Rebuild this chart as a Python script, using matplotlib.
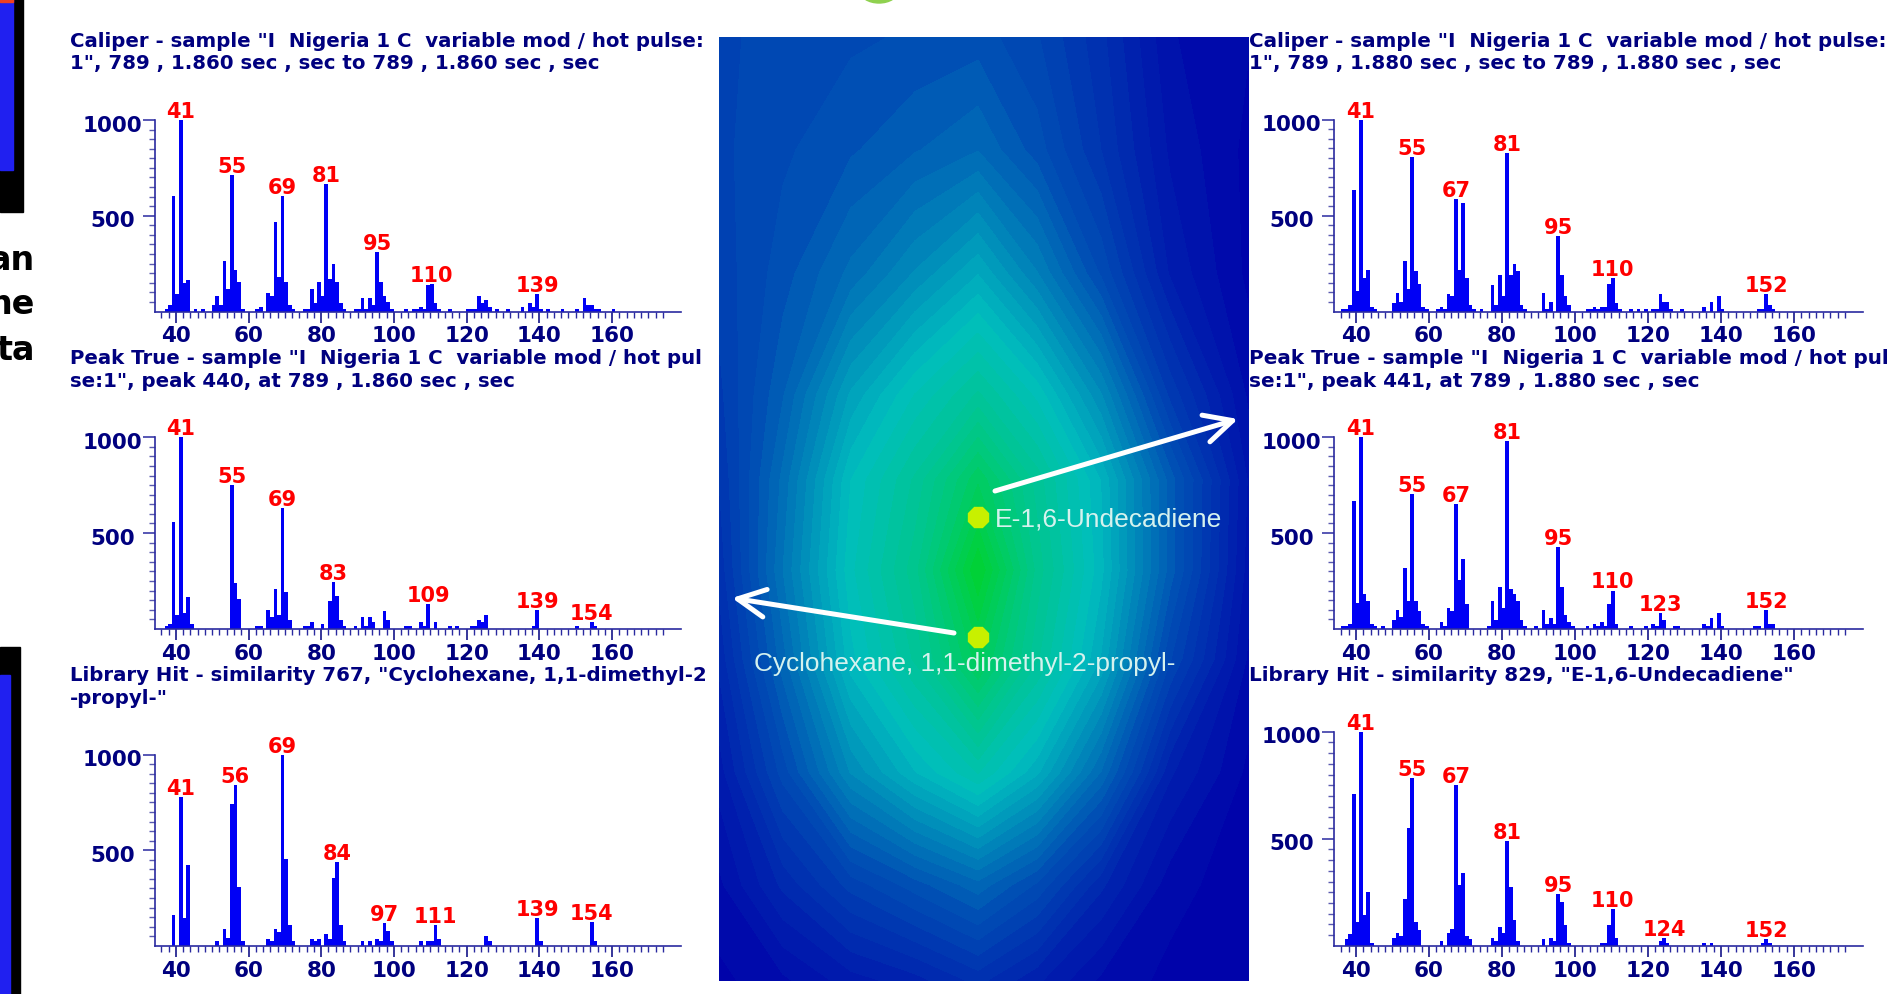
import numpy as np
import matplotlib
matplotlib.use('Agg')
import matplotlib.pyplot as plt
from matplotlib.colors import LinearSegmentedColormap
from matplotlib.patches import Rectangle, Ellipse, FancyArrowPatch
from matplotlib.transforms import Affine2D

W, H = 1893, 995

# --- spectra: m/z and intensity ---
cal_860_mz = [37, 38, 39, 40, 41, 42, 43, 45, 47, 50, 51, 52, 53, 54, 55, 56, 57, 58, 62, 63, 65, 66, 67, 68, 69, 70, 71, 72,
              75, 76, 77, 78, 79, 80, 81, 82, 83, 84, 85, 86, 89, 90, 91, 92, 93, 94, 95, 96, 97, 98, 99,
              103, 105, 106, 107, 108, 109, 110, 111, 112, 115, 120, 121, 122, 123, 124, 125, 126, 128, 131,
              135, 137, 138, 139, 140, 142, 146, 150, 152, 153, 154, 155, 156, 160]
cal_860_int = [14, 35, 604, 89, 1000, 150, 162, 14, 14, 35, 80, 35, 264, 117, 714, 218, 154, 14, 14, 24, 98, 80, 466, 181, 604, 154, 35, 14,
               14, 14, 117, 44, 154, 80, 668, 171, 246, 154, 44, 14, 14, 14, 72, 14, 72, 35, 311, 154, 80, 52, 14,
               14, 14, 14, 24, 14, 136, 145, 44, 14, 14, 14, 14, 14, 80, 44, 61, 24, 14, 14,
               24, 44, 24, 89, 14, 14, 14, 14, 72, 35, 35, 14, 14, 14]
cal_860_peaks = [41, 55, 69, 81, 95, 110, 139]

true_440_mz = [37, 38, 39, 40, 41, 42, 43, 44, 55, 56, 57, 62, 63, 65, 66, 67, 68, 69, 70, 71,
               75, 76, 77, 80, 82, 83, 84, 85, 86, 89, 91, 92, 93, 94, 97, 98,
               103, 104, 107, 108, 109, 111, 115, 117, 121, 122, 123, 124, 125, 138, 139, 150, 154, 155]
true_440_int = [16, 26, 558, 73, 1000, 80, 164, 26, 750, 237, 154, 17, 17, 99, 63, 209, 72, 632, 192, 44,
                17, 17, 35, 26, 145, 246, 173, 44, 17, 17, 63, 17, 63, 35, 91, 44,
                17, 17, 35, 17, 127, 35, 17, 17, 17, 17, 44, 35, 72, 17, 99, 17, 35, 17]
true_440_peaks = [41, 55, 69, 83, 109, 139, 154]

lib_767_mz = [39, 41, 42, 43, 51, 53, 54, 55, 56, 57, 58, 65, 66, 67, 68, 69, 70, 71, 72,
              77, 78, 79, 81, 82, 83, 84, 85, 86, 91, 93, 95, 96, 97, 98, 99,
              107, 109, 110, 111, 112, 125, 126, 139, 140, 154, 155]
lib_767_int = [163, 778, 143, 421, 23, 89, 42, 741, 843, 309, 23, 33, 23, 89, 70, 1000, 456, 107, 23,
               33, 23, 33, 61, 33, 357, 439, 107, 23, 23, 23, 33, 23, 117, 80, 23,
               23, 23, 23, 107, 33, 52, 23, 143, 23, 126, 23]
lib_767_peaks = [41, 56, 69, 84, 97, 111, 139, 154]

cal_880_mz = [36, 37, 38, 39, 40, 41, 42, 43, 44, 45, 50, 51, 52, 53, 54, 55, 56, 57, 58, 59,
              62, 63, 64, 65, 66, 67, 68, 69, 70, 71, 72, 74, 77, 78, 79, 80, 81, 82, 83, 84, 85, 86,
              91, 92, 93, 95, 96, 97, 98, 103, 104, 105, 106, 107, 108, 109, 110, 111, 112,
              115, 117, 119, 121, 122, 123, 124, 125, 126, 129, 135, 137, 139, 140, 150, 151, 152, 153, 154]
cal_880_int = [14, 14, 35, 632, 108, 1000, 173, 218, 24, 14, 44, 98, 52, 264, 117, 806, 209, 145, 24, 14,
               14, 24, 14, 89, 80, 585, 218, 567, 173, 35, 14, 14, 136, 35, 190, 80, 824, 190, 246, 209, 35, 14,
               98, 14, 52, 393, 190, 80, 35, 14, 14, 24, 14, 24, 24, 145, 173, 44, 14,
               14, 14, 14, 14, 14, 89, 52, 52, 14, 14, 24, 52, 80, 14, 14, 14, 89, 35, 14]
cal_880_peaks = [41, 55, 67, 81, 95, 110, 152]

true_441_mz = [36, 37, 38, 39, 40, 41, 42, 43, 44, 45, 47, 50, 51, 52, 53, 54, 55, 56, 57, 58, 59,
               63, 64, 65, 66, 67, 68, 69, 70, 76, 77, 78, 79, 80, 81, 82, 83, 84, 85, 86, 89,
               91, 92, 93, 94, 95, 96, 97, 98, 99, 103, 105, 106, 107, 108, 109, 110, 111,
               115, 119, 121, 122, 123, 124, 127, 128, 135, 136, 137, 139, 140, 149, 150, 152, 153, 154]
true_441_int = [17, 17, 26, 668, 136, 1000, 181, 145, 26, 17, 17, 44, 99, 63, 319, 145, 705, 145, 91, 26, 17,
                35, 17, 108, 91, 651, 255, 366, 127, 17, 145, 44, 218, 108, 981, 209, 181, 145, 44, 17, 17,
                99, 26, 54, 26, 429, 218, 72, 35, 17, 17, 26, 17, 35, 17, 127, 200, 26,
                17, 17, 26, 17, 80, 44, 17, 17, 26, 17, 54, 80, 17, 17, 17, 99, 26, 26]
true_441_peaks = [41, 55, 67, 81, 95, 110, 123, 152]

lib_829_mz = [37, 38, 39, 40, 41, 42, 43, 44, 50, 51, 52, 53, 54, 55, 56, 57, 63, 65, 66, 67, 68, 69, 70, 71,
              77, 78, 79, 80, 81, 82, 83, 84, 91, 93, 94, 95, 96, 97, 98, 107, 108, 109, 110, 111,
              123, 124, 125, 135, 137, 151, 152, 153]
lib_829_int = [30, 55, 711, 112, 1000, 145, 253, 14, 37, 62, 47, 218, 548, 785, 112, 72, 22, 62, 80, 752, 284, 342, 47, 30,
               37, 22, 87, 62, 490, 276, 120, 22, 30, 37, 22, 243, 203, 95, 14, 14, 14, 95, 170, 37,
               22, 37, 14, 14, 14, 14, 30, 14]
lib_829_peaks = [41, 55, 67, 81, 95, 110, 124, 152]

titles = [
    ['Caliper - sample "I  Nigeria 1 C  variable mod / hot pulse:', '1", 789 , 1.860 sec , sec to 789 , 1.860 sec , sec'],
    ['Peak True - sample "I  Nigeria 1 C  variable mod / hot pul', 'se:1", peak 440, at 789 , 1.860 sec , sec'],
    ['Library Hit - similarity 767, "Cyclohexane, 1,1-dimethyl-2', '-propyl-"'],
    ['Caliper - sample "I  Nigeria 1 C  variable mod / hot pulse:', '1", 789 , 1.880 sec , sec to 789 , 1.880 sec , sec'],
    ['Peak True - sample "I  Nigeria 1 C  variable mod / hot pul', 'se:1", peak 441, at 789 , 1.880 sec , sec'],
    ['Library Hit - similarity 829, "E-1,6-Undecadiene"'],
]

# --- centre surface, values ---
heat_x = [719, 783, 851, 915, 978, 1037, 1101, 1170, 1249]
heat_y = [38, 151, 274, 396, 481, 571, 660, 773, 886, 982]
heat_rows = [
    [.25, .27, .28, .29, .30, .26, .18, .06, .03],
    [.25, .28, .31, .34, .37, .30, .20, .08, .02],
    [.24, .30, .38, .46, .54, .43, .28, .11, .02],
    [.22, .34, .52, .63, .72, .62, .46, .22, .05],
    [.20, .38, .60, .72, .88, .73, .57, .33, .08],
    [.18, .40, .62, .76, 1.0, .76, .58, .33, .07],
    [.15, .36, .59, .72, .90, .72, .54, .26, .05],
    [.10, .27, .46, .57, .66, .55, .37, .12, .02],
    [.05, .15, .24, .30, .36, .28, .15, .04, .01],
    [.02, .05, .10, .13, .18, .12, .05, .02, .01],
]
compound_names = ['E-1,6-Undecadiene', 'Cyclohexane, 1,1-dimethyl-2-propyl-']
compound_x = [978, 978]
compound_y = [518, 638]

NAVY = '#00007f'
TICK = '#2a2aa0'
BAR = '#0000f5'
RED = '#ff0000'

fig = plt.figure(figsize=(W / 100, H / 100), dpi=100, facecolor='white')


def px_axes(x0, ytop, x1, ybot, **kw):
    return fig.add_axes([x0 / W, 1 - ybot / H, (x1 - x0) / W, (ybot - ytop) / H], **kw)


def draw_spectrum(box, xlim, mz, inten, peaks):
    ax = px_axes(*box)
    ax.set_xlim(*xlim)
    ax.set_ylim(0, 1000)
    # bars sit just right of the nominal mass in the source program
    ax.bar(np.array(mz) + 0.4, inten, width=1.0, color=BAR, linewidth=0, zorder=2)
    lookup = dict(zip(mz, inten))
    for p in peaks:
        ax.annotate(str(p), (p + 0.4, lookup[p]), xytext=(0, 2.2), textcoords='offset points',
                    ha='center', va='baseline', color=RED, fontsize=15, fontweight='bold',
                    annotation_clip=False, zorder=3)
    for s in ['top', 'right']:
        ax.spines[s].set_visible(False)
    for s in ['left', 'bottom']:
        ax.spines[s].set_color(TICK)
        ax.spines[s].set_linewidth(1.2)
    ax.set_xticks(np.arange(40, 180, 20)[:7])
    ax.set_xticks(np.arange(36, 176, 2), minor=True)
    ax.set_yticks([500, 1000])
    ax.set_yticklabels(['500', '1000'])
    ax.set_yticks(np.arange(50, 1000, 50), minor=True)
    ax.tick_params(axis='x', which='major', length=8, width=1.1, color=NAVY, pad=2, labelsize=15.5, labelcolor=NAVY)
    ax.tick_params(axis='x', which='minor', length=4.5, width=1, color=TICK)
    ax.tick_params(axis='y', which='major', length=8.5, width=1.1, color=TICK, pad=22, labelsize=15.5, labelcolor=NAVY)
    ax.tick_params(axis='y', which='minor', length=4.5, width=1, color='#5a5ab0')
    for lab in ax.get_xticklabels() + ax.get_yticklabels():
        lab.set_fontweight('bold')
    for lab in ax.get_yticklabels():
        lab.set_ha('center')
        lab.set_transform(lab.get_transform() + Affine2D().translate(0, -2.5))
    return ax


left_x = (154.7, 680.8)
right_x = (1334, 1862.6)
left_lim = (34.2, 178.9)
right_lim = (34.0, 178.8)

draw_spectrum((left_x[0], 121, left_x[1], 312.5), left_lim, cal_860_mz, cal_860_int, cal_860_peaks)
draw_spectrum((left_x[0], 438.3, left_x[1], 629.8), left_lim, true_440_mz, true_440_int, true_440_peaks)
draw_spectrum((left_x[0], 755.7, left_x[1], 946.8), left_lim, lib_767_mz, lib_767_int, lib_767_peaks)
draw_spectrum((right_x[0], 120.7, right_x[1], 312.5), right_lim, cal_880_mz, cal_880_int, cal_880_peaks)
draw_spectrum((right_x[0], 438.3, right_x[1], 629.8), right_lim, true_441_mz, true_441_int, true_441_peaks)
draw_spectrum((right_x[0], 732.7, right_x[1], 946.8), right_lim, lib_829_mz, lib_829_int, lib_829_peaks)

# --- centre surface ---
cmap = LinearSegmentedColormap.from_list('surface', [
    (0.0, (0, 0, 170 / 255)),
    (0.3, (0, 80 / 255, 180 / 255)),
    (0.6, (0, 190 / 255, 190 / 255)),
    (0.8, (0, 200 / 255, 130 / 255)),
    (1.0, (0, 210 / 255, 50 / 255)),
])
hax = px_axes(719, 38, 1249, 982)
hax.contourf(heat_x, heat_y, np.array(heat_rows), levels=np.linspace(0, 1, 36), cmap=cmap, vmin=0, vmax=1, antialiased=False)
hax.set_xlim(719, 1249)
hax.set_ylim(982, 38)
hax.axis('off')

hax.plot(compound_x, compound_y, linestyle='none', marker='8', ms=15.5, mfc='#c8f000', mec='#c8f000', zorder=5)
hax.text(995, compound_y[0] + 2, compound_names[0], color='#d5f2ee', fontsize=19, family='Liberation Sans', ha='left', va='center', zorder=5)
hax.text(754, 664, compound_names[1], color='#d5f2ee', fontsize=18.9, family='Liberation Sans', ha='left', va='center', zorder=5)
for tail, head in [((995, 492), (1238, 420)), ((954, 634), (732, 599))]:
    hax.add_patch(FancyArrowPatch(tail, head, arrowstyle='->,head_length=20,head_width=10', color='white',
                                  lw=3.6, shrinkA=0, shrinkB=0, mutation_scale=1, zorder=6))

# --- page furniture and panel headings, in pixel coordinates ---
page = px_axes(0, 0, W, H)
page.set_xlim(0, W)
page.set_ylim(H, 0)
page.axis('off')
page.patch.set_alpha(0)
page.add_patch(Rectangle((0, 0), 23, 213, color='black'))
page.add_patch(Rectangle((0, 0), 13, 171, color='#2020f0'))
page.add_patch(Rectangle((0, 0), 13, 2.5, color='#f04020'))
page.add_patch(Rectangle((0, 648), 20, H - 648, color='black'))
page.add_patch(Rectangle((0, 676), 10, H - 676, color='#2020f0'))
page.add_patch(Ellipse((879, -8), 38, 24, color='#8fd14f'))
for txt, y in zip(['an', 'ne', 'ta'], [260, 304, 350]):
    page.text(35, y, txt, color='black', fontsize=24, fontweight='bold', ha='right', va='center')

title_y = [[41.7, 63], [358, 381.7], [675.7, 699], [41.7, 63], [358, 381.7], [675.7]]
title_x = [70, 70, 70, 1249, 1249, 1249]
title_size = [14.25, 14.25, 14.25, 14.35, 14.4, 14.4]
for lines, ys, x, fs in zip(titles, title_y, title_x, title_size):
    for line, y in zip(lines, ys):
        page.text(x, y, line, color=NAVY, fontsize=fs, fontweight='bold', ha='left', va='center')

fig.savefig('out.png', dpi=100)
